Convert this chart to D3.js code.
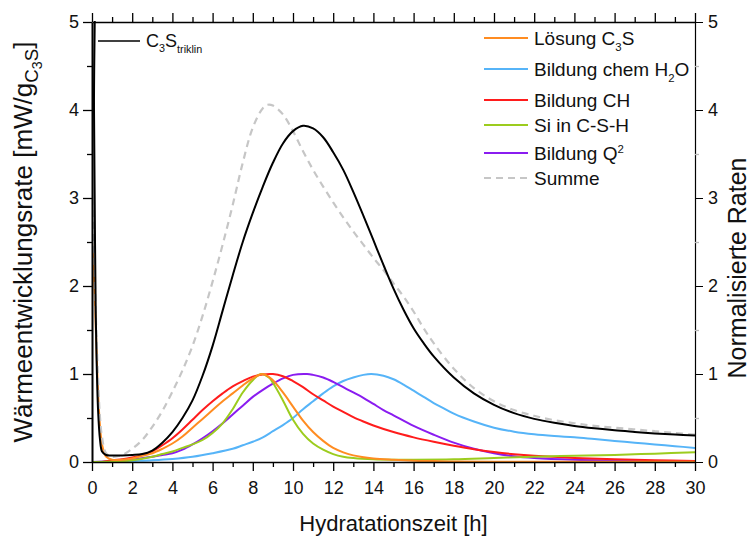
<!DOCTYPE html>
<html>
<head>
<meta charset="utf-8">
<script src="https://cdn.jsdelivr.net/npm/d3@7"></script>
<style>
  body { margin: 0; background: #fff; }
  svg { display: block; }
  text { font-family: "Liberation Sans", Arial, Helvetica, sans-serif; fill: #111; }
</style>
</head>
<body>
<svg id="chart" width="750" height="536"></svg>
<script>
// Hydration time axis [h] and measured / normalised rates
const xTicksMajor = [0, 2, 4, 6, 8, 10, 12, 14, 16, 18, 20, 22, 24, 26, 28, 30];
const yTicksMajor = [0, 1, 2, 3, 4, 5];

// heat flow of triclinic C3S [mW/g]
const c3sT = [0, 0.05, 0.1, 0.15, 0.2, 0.3, 0.4, 0.5, 0.7, 1, 1.5, 2, 2.5, 3, 3.5, 4, 4.5, 5, 5.5, 6, 6.5, 7, 7.5, 8, 8.5, 9, 9.5, 10, 10.5, 11, 11.5, 12, 12.5, 13, 13.5, 14, 14.5, 15, 15.5, 16, 16.5, 17, 18, 19, 20, 21, 22, 23, 24, 25, 26, 27, 28, 29, 30];
const c3sV = [6, 6, 4.0, 2.5, 1.5, 0.6, 0.25, 0.12, 0.08, 0.075, 0.075, 0.08, 0.09, 0.13, 0.22, 0.34, 0.5, 0.7, 0.98, 1.32, 1.72, 2.12, 2.5, 2.83, 3.13, 3.4, 3.62, 3.76, 3.82, 3.79, 3.69, 3.52, 3.32, 3.07, 2.8, 2.52, 2.24, 1.97, 1.73, 1.52, 1.35, 1.2, 0.96, 0.78, 0.65, 0.555, 0.49, 0.445, 0.41, 0.383, 0.36, 0.342, 0.325, 0.312, 0.30];

// sum of the modelled contributions
const sumT = [0, 0.1, 0.2, 0.3, 0.4, 0.5, 0.7, 1, 1.5, 2, 2.5, 3, 3.5, 4, 4.5, 5, 5.5, 6, 6.5, 7, 7.5, 8, 8.5, 8.75, 9, 9.5, 10, 10.5, 11, 11.5, 12, 12.5, 13, 13.5, 14, 14.5, 15, 15.5, 16, 16.5, 17, 18, 19, 20, 21, 22, 23, 24, 25, 26, 27, 28, 29, 30];
const sumV = [3.0, 2.4, 1.6, 0.95, 0.5, 0.28, 0.1, 0.06, 0.08, 0.15, 0.25, 0.4, 0.58, 0.8, 1.04, 1.32, 1.66, 2.05, 2.47, 2.92, 3.4, 3.8, 4.02, 4.06, 4.05, 3.95, 3.76, 3.53, 3.32, 3.13, 2.95, 2.78, 2.62, 2.47, 2.32, 2.18, 2.03, 1.88, 1.71, 1.52, 1.35, 1.06, 0.84, 0.69, 0.59, 0.525, 0.475, 0.44, 0.41, 0.39, 0.37, 0.35, 0.33, 0.31];

// normalised rates
const loesungT = [0, 0.1, 0.2, 0.3, 0.4, 0.5, 0.7, 1, 1.5, 2, 2.5, 3, 3.5, 4, 4.5, 5, 5.5, 6, 6.5, 7, 7.5, 8, 8.5, 9, 9.5, 10, 10.5, 11, 11.5, 12, 12.5, 13, 14, 15, 16, 17, 18, 20, 25, 30];
const loesungV = [2.5, 2.1, 1.45, 0.8, 0.4, 0.2, 0.06, 0.025, 0.025, 0.04, 0.07, 0.1, 0.15, 0.21, 0.29, 0.39, 0.49, 0.59, 0.69, 0.78, 0.87, 0.95, 1.0, 0.93, 0.79, 0.63, 0.47, 0.34, 0.24, 0.16, 0.11, 0.075, 0.04, 0.025, 0.015, 0.01, 0.005, 0.003, 0.002, 0.002];

const wasserT = [0, 1, 2, 3, 4, 5, 6, 7, 7.5, 8, 8.5, 9, 9.5, 10, 10.5, 11, 11.5, 12, 12.5, 13, 13.5, 13.9, 14.5, 15, 15.5, 16, 16.5, 17, 17.5, 18, 19, 20, 21, 22, 23, 24, 25, 26, 27, 28, 29, 30];
const wasserV = [0, 0, 0.01, 0.02, 0.035, 0.06, 0.1, 0.15, 0.19, 0.23, 0.28, 0.35, 0.42, 0.5, 0.6, 0.69, 0.78, 0.86, 0.92, 0.96, 0.99, 1.0, 0.98, 0.94, 0.88, 0.81, 0.74, 0.67, 0.61, 0.55, 0.46, 0.39, 0.345, 0.315, 0.295, 0.28, 0.26, 0.24, 0.22, 0.2, 0.18, 0.16];

const chT = [0, 0.5, 1, 1.5, 2, 2.5, 3, 3.5, 4, 4.5, 5, 5.5, 6, 6.5, 7, 7.5, 8, 8.5, 9, 9.5, 10, 10.5, 11, 11.5, 12, 12.5, 13, 13.5, 14, 15, 16, 17, 18, 19, 20, 21, 22, 24, 26, 28, 30];
const chV = [0, 0, 0.02, 0.03, 0.05, 0.08, 0.12, 0.19, 0.27, 0.37, 0.48, 0.59, 0.69, 0.78, 0.86, 0.92, 0.97, 0.995, 1.0, 0.975, 0.92, 0.85, 0.77, 0.7, 0.63, 0.57, 0.51, 0.46, 0.415, 0.34, 0.28, 0.23, 0.185, 0.145, 0.113, 0.088, 0.07, 0.046, 0.03, 0.02, 0.012];

const cshT = [0, 1, 2, 3, 3.5, 4, 4.5, 5, 5.5, 6, 6.5, 7, 7.5, 8, 8.4, 8.8, 9, 9.5, 10, 10.5, 11, 11.5, 12, 12.5, 13, 14, 15, 16, 18, 20, 22, 24, 26, 28, 30];
const cshV = [0, 0.005, 0.02, 0.06, 0.09, 0.12, 0.16, 0.2, 0.25, 0.33, 0.44, 0.6, 0.79, 0.93, 1.0, 0.96, 0.9, 0.7, 0.48, 0.32, 0.21, 0.14, 0.09, 0.06, 0.045, 0.03, 0.025, 0.025, 0.03, 0.045, 0.06, 0.07, 0.08, 0.095, 0.11];

const q2T = [0, 1, 2, 3, 3.5, 4, 4.5, 5, 5.5, 6, 6.5, 7, 7.5, 8, 8.5, 9, 9.5, 10, 10.7, 11, 11.5, 12, 12.5, 13, 13.5, 14, 14.5, 15, 16, 17, 18, 19, 20, 21, 22, 24, 26, 28, 30];
const q2V = [0, 0.01, 0.025, 0.06, 0.08, 0.1, 0.14, 0.2, 0.27, 0.35, 0.44, 0.54, 0.64, 0.74, 0.82, 0.89, 0.95, 0.99, 1.0, 0.99, 0.96, 0.91, 0.85, 0.79, 0.73, 0.66, 0.59, 0.53, 0.41, 0.31, 0.22, 0.15, 0.1, 0.065, 0.045, 0.025, 0.015, 0.008, 0.005];

const seriesNames = ["Lösung C₃S", "Bildung chem H₂O", "Bildung CH", "Si in C-S-H", "Bildung Q²", "Summe"];
const seriesColors = ["#ff8c21", "#56b4f8", "#ff1c1c", "#9ccc1e", "#8a1cf0", "#c6c6c6"];

const svg = d3.select("#chart");
const m = { left: 92, right: 695, top: 22, bottom: 462 };

const x = d3.scaleLinear().domain([0, 30]).range([m.left, m.right]);
const y = d3.scaleLinear().domain([0, 5]).range([m.bottom, m.top]);

svg.append("defs").append("clipPath").attr("id", "plotclip")
  .append("rect").attr("x", m.left).attr("y", m.top - 1)
  .attr("width", m.right - m.left).attr("height", m.bottom - m.top + 1);

const line = d3.line().x(d => x(d[0])).y(d => y(d[1])).curve(d3.curveCatmullRom.alpha(0.5));
const zip = (ts, vs) => ts.map((t, i) => [t, vs[i]]);

const plot = svg.append("g").attr("clip-path", "url(#plotclip)");

const colored = [
  { pts: zip(wasserT, wasserV), color: seriesColors[1] },
  { pts: zip(q2T, q2V), color: seriesColors[4] },
  { pts: zip(chT, chV), color: seriesColors[2] },
  { pts: zip(cshT, cshV), color: seriesColors[3] },
  { pts: zip(loesungT, loesungV), color: seriesColors[0] }
];
colored.forEach(s => {
  plot.append("path").attr("d", line(s.pts)).attr("fill", "none")
    .attr("stroke", s.color).attr("stroke-width", 2);
});
plot.append("path").attr("d", line(zip(sumT, sumV))).attr("fill", "none")
  .attr("stroke", seriesColors[5]).attr("stroke-width", 2.2).attr("stroke-dasharray", "7,5");
plot.append("path").attr("d", line(zip(c3sT, c3sV))).attr("fill", "none")
  .attr("stroke", "#000").attr("stroke-width", 2);

// axes
const xMinor = d3.range(1, 30, 2);
const yMinor = d3.range(0.5, 5, 1);
const fs = 18;

function styleAxis(g, w) {
  g.select(".domain").attr("stroke", "#000").attr("stroke-width", w);
  g.selectAll(".tick line").attr("stroke", "#000").attr("stroke-width", 1.3);
  g.selectAll(".tick text").attr("font-size", fs).attr("fill", "#111")
    .attr("font-family", '"Liberation Sans", Arial, Helvetica, sans-serif');
}

const gb = svg.append("g").attr("transform", `translate(0,${m.bottom})`)
  .call(d3.axisBottom(x).tickValues(xTicksMajor).tickSize(9).tickSizeOuter(0).tickPadding(10).tickFormat(d3.format("d")));
styleAxis(gb, 1.5);
svg.append("g").attr("transform", `translate(0,${m.bottom})`)
  .call(d3.axisBottom(x).tickValues(xMinor).tickSize(5).tickFormat("")).call(g => { g.select(".domain").remove(); styleAxis(g, 1.5); });

const gt = svg.append("g").attr("transform", `translate(0,${m.top})`)
  .call(d3.axisTop(x).tickValues(xTicksMajor).tickSize(9).tickSizeOuter(0).tickFormat(""));
styleAxis(gt, 1.5);
svg.append("g").attr("transform", `translate(0,${m.top})`)
  .call(d3.axisTop(x).tickValues(xMinor).tickSize(5).tickFormat("")).call(g => { g.select(".domain").remove(); styleAxis(g, 1.5); });

const gl = svg.append("g").attr("transform", `translate(${m.left},0)`)
  .call(d3.axisLeft(y).tickValues(yTicksMajor).tickSize(9).tickSizeOuter(0).tickPadding(4).tickFormat(d3.format("d")));
styleAxis(gl, 2);
svg.append("g").attr("transform", `translate(${m.left},0)`)
  .call(d3.axisLeft(y).tickValues(yMinor).tickSize(5).tickFormat("")).call(g => { g.select(".domain").remove(); styleAxis(g, 2); });

const gr = svg.append("g").attr("transform", `translate(${m.right},0)`)
  .call(d3.axisRight(y).tickValues(yTicksMajor).tickSize(8).tickSizeOuter(0).tickPadding(5).tickFormat(d3.format("d")));
styleAxis(gr, 1.2);
gr.selectAll(".tick line").attr("stroke-width", 1);
svg.append("g").attr("transform", `translate(${m.right},0)`)
  .call(d3.axisRight(y).tickValues(yMinor).tickSize(4).tickFormat("")).call(g => { g.select(".domain").remove(); styleAxis(g, 1); g.selectAll(".tick line").attr("stroke", "#bbb"); });

// rich text helper: parts = [text, sizeFactor, dy]
function rich(t, parts, size) {
  parts.forEach(p => {
    const ts = t.append("tspan").text(p[0]).attr("font-size", size * (p[1] || 1));
    if (p[2]) ts.attr("dy", p[2]);
  });
  return t;
}

// axis titles
svg.append("text").attr("x", (m.left + m.right) / 2).attr("y", 531)
  .attr("text-anchor", "middle").attr("font-size", 22).text("Hydratationszeit [h]");

rich(svg.append("text").attr("transform", `translate(32,${(m.top + m.bottom) / 2}) rotate(-90)`)
  .attr("text-anchor", "middle"),
  [["Wärmeentwicklungsrate [mW/g", 1], ["C", 0.72, 6], ["3", 0.55, 4], ["S", 0.72, -4], ["]", 1, -6]], 26);

svg.append("text").attr("transform", `translate(746,268) rotate(-90)`)
  .attr("text-anchor", "middle").attr("font-size", 25).text("Normalisierte Raten");

// legend for the measured curve
svg.append("line").attr("x1", 98).attr("x2", 140).attr("y1", 41).attr("y2", 41)
  .attr("stroke", "#000").attr("stroke-width", 1.5);
rich(svg.append("text").attr("x", 146).attr("y", 47),
  [["C", 1], ["3", 0.6, 5], ["S", 1, -5], ["triklin", 0.6, 6]], 18);

// legend for the normalised rates
const legY = [38, 69, 100, 125, 153, 178];
const legParts = [
  [["Lösung C", 1], ["3", 0.6, 6], ["S", 1, -6]],
  [["Bildung chem H", 1], ["2", 0.6, 6], ["O", 1, -6]],
  [["Bildung CH", 1]],
  [["Si in C-S-H", 1]],
  [["Bildung Q", 1], ["2", 0.6, -7]],
  [["Summe", 1]]
];
seriesNames.forEach((name, i) => {
  const l = svg.append("line").attr("x1", 484).attr("x2", 528).attr("y1", legY[i]).attr("y2", legY[i])
    .attr("stroke", seriesColors[i]).attr("stroke-width", 2);
  if (i === 5) l.attr("stroke-dasharray", "7,5");
  rich(svg.append("text").attr("x", 534).attr("y", legY[i] + 7), legParts[i], 19);
});
</script>
</body>
</html>
